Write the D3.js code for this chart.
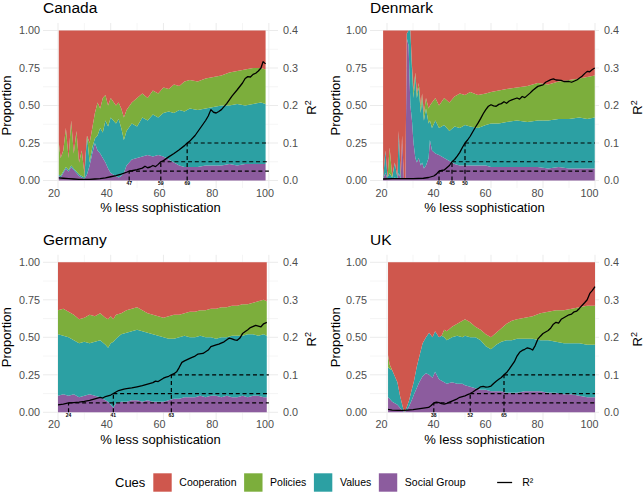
<!DOCTYPE html>
<html>
<head>
<meta charset="utf-8">
<script src="https://cdn.jsdelivr.net/npm/d3@7"></script>
<style>
  body { margin: 0; background: #fff; }
  text { font-family: "Liberation Sans", Arial, Helvetica, sans-serif; }
</style>
</head>
<body>
<div id="chart-area"></div>
<script>
// cues, bottom of the stack first
const cues = ["Social Group", "Values", "Policies", "Cooperation"];
const legendOrder = ["Cooperation", "Policies", "Values", "Social Group"];
const cueColors = {"Cooperation": "#CF574D", "Policies": "#7CAE3C", "Values": "#2CA0A3", "Social Group": "#8C5C9E"};

const xTicks = [20, 40, 60, 80, 100];
const xMinor = [30, 50, 70, 90];
const yTicks = [0, 0.25, 0.5, 0.75, 1];
const yMinor = [0.125, 0.375, 0.625, 0.875];
const r2Ticks = [0, 0.1, 0.2, 0.3, 0.4];
const r2Cuts = [0.025, 0.05, 0.1];

// Canada
const canX        = [20.3,21,22,23,24,25,26,27,28,29,30,31,32,33,34,35,36,37,38,39,40,42,43,44,45,46,48,50,52,54,56,58,60,62,64,66,68,70,73,76,79,82,85,88,91,94,97,98.75];
const canSocial   = [.03,.02,.05,.08,.06,.09,.07,.05,.03,.02,.01,.04,.10,.18,.25,.20,.18,.15,.12,.08,.05,.03,.02,.03,.05,.10,.14,.15,.16,.17,.16,.17,.16,.14,.12,.10,.09,.09,.09,.10,.10,.10,.11,.10,.11,.11,.11,.11];
const canValues   = [.01,.01,.01,.01,.01,.01,.01,.01,.01,.01,.01,.26,.02,.04,.03,.10,.17,.17,.28,.28,.37,.35,.39,.32,.22,.23,.24,.21,.26,.23,.28,.25,.29,.32,.33,.37,.37,.39,.38,.38,.39,.40,.39,.41,.39,.40,.41,.40];
const canPolicies = [.21,.12,.14,.26,.08,.30,.10,.27,.08,.17,.03,.00,.13,.13,.17,.22,.13,.23,.17,.14,.13,.12,.11,.13,.15,.14,.14,.19,.16,.15,.16,.16,.17,.15,.19,.16,.20,.19,.19,.20,.20,.20,.22,.22,.24,.24,.23,.23];
const canCoop     = [.75,.85,.80,.65,.85,.60,.82,.67,.88,.80,.95,.70,.75,.65,.55,.48,.52,.45,.43,.50,.45,.50,.48,.52,.58,.53,.48,.45,.42,.45,.40,.42,.38,.39,.36,.37,.34,.33,.34,.32,.31,.30,.28,.27,.26,.25,.25,.26];
const canR2X = [20.3,22,24,26,28,30,32,34,36,38,40,42,44,46,47,48,50,52,53,54,55,56,57,58,59,60,62,64,66,68,69,70,72,74,76,77,78,79,80,81,82,84,86,88,90,91,92,93,94,95,96,97,97.8,98.75];
const canR2  = [.007,.006,.005,.004,.003,.003,.003,.004,.005,.007,.010,.013,.017,.022,.025,.026,.029,.033,.038,.034,.036,.040,.037,.043,.050,.053,.063,.072,.082,.093,.100,.105,.120,.140,.160,.172,.189,.182,.180,.184,.189,.205,.225,.242,.260,.272,.277,.276,.283,.286,.292,.300,.317,.311];
const canCut = [47, 59, 69];

// Denmark
const denX        = [18.5,19.4,20.2,21,22,23,24,24.5,25.3,25.8,26.5,27.1,27.6,28.3,29,29.6,30.2,30.9,31.5,32.2,33,33.5,34.2,35,36,36.5,37.3,38.6,40,42,44,46,48,50,52,55,58,60,63,66,70,74,78,82,86,90,94,97,99.9];
const denSocial   = [.01,.05,.01,.01,.01,.02,.01,.05,.01,.30,.01,.01,.95,.90,.50,.40,.25,.15,.12,.15,.10,.12,.08,.10,.15,.27,.20,.18,.17,.15,.13,.11,.10,.10,.10,.10,.10,.09,.09,.09,.09,.09,.09,.08,.09,.08,.08,.08,.08];
const denValues   = [.00,.15,.01,.04,.01,.10,.01,.28,.01,.00,.00,.00,.03,.10,.50,.35,.30,.55,.43,.47,.35,.43,.32,.38,.23,.13,.15,.22,.18,.22,.20,.25,.25,.27,.26,.25,.27,.29,.29,.30,.31,.30,.31,.32,.32,.33,.34,.33,.34];
const denPolicies = [.00,.00,.00,.17,.01,.00,.00,.00,.00,.00,.00,.00,.00,.00,.00,.02,.05,.02,.03,.03,.05,.03,.05,.07,.10,.10,.17,.15,.15,.18,.19,.20,.23,.20,.23,.22,.21,.21,.22,.22,.22,.24,.25,.24,.25,.26,.26,.28,.28];
const denCoop     = [.99,.80,.98,.78,.97,.88,.98,.67,.98,.70,.99,.99,.02,.00,.00,.23,.40,.28,.42,.35,.50,.42,.55,.45,.52,.50,.48,.45,.50,.45,.48,.44,.42,.43,.41,.43,.42,.41,.40,.39,.38,.37,.35,.36,.34,.33,.32,.31,.30];
const denR2X = [18.5,22,26,30,34,36,38,39,40,41,42,43,44,45,46,47,48,49,50,51,52,53,54,55,56,57,58,59,60,61,62,63,64,65,66,67,68,70,71,72,73,75,76,78,80,81,83,84,85,87,88,90,91,93,95,96,97,98,99,99.9];
const denR2  = [.004,.005,.005,.005,.006,.008,.012,.017,.025,.027,.028,.034,.040,.050,.056,.065,.075,.088,.100,.108,.118,.130,.142,.153,.165,.178,.189,.198,.202,.199,.198,.203,.205,.210,.206,.212,.215,.220,.217,.224,.221,.233,.240,.251,.255,.262,.269,.271,.268,.267,.264,.264,.262,.268,.278,.285,.291,.290,.296,.300];
const denCut = [40, 45, 50];

// Germany
const gerX        = [20,22,24,26,28,30,32,34,36,38,39,40,41,42,44,46,48,50,52,54,56,58,60,62,64,66,68,70,72,74,76,78,80,82,84,86,88,90,92,94,96,98,99.2];
const gerSocial   = [.11,.12,.11,.12,.10,.11,.12,.11,.10,.08,.07,.05,.03,.06,.07,.07,.08,.08,.07,.08,.07,.07,.07,.08,.09,.09,.10,.10,.10,.11,.10,.11,.11,.10,.11,.10,.10,.11,.10,.11,.11,.10,.10];
const gerValues   = [.41,.39,.39,.36,.36,.36,.34,.36,.38,.37,.36,.41,.44,.43,.45,.46,.46,.47,.47,.45,.45,.44,.43,.41,.40,.41,.41,.40,.40,.40,.40,.39,.38,.40,.39,.41,.41,.40,.42,.41,.40,.42,.41];
const gerPolicies = [.16,.18,.17,.17,.16,.16,.19,.17,.18,.18,.19,.18,.15,.16,.14,.15,.15,.15,.14,.13,.13,.13,.13,.15,.16,.15,.15,.17,.17,.17,.18,.19,.20,.20,.20,.20,.20,.21,.20,.21,.23,.23,.23];
const gerCoop     = [.32,.31,.33,.35,.38,.37,.35,.36,.34,.37,.38,.36,.38,.35,.34,.32,.31,.30,.32,.34,.35,.36,.37,.36,.35,.35,.34,.33,.33,.32,.32,.31,.31,.30,.30,.29,.29,.28,.28,.27,.26,.25,.26];
const gerR2X = [20,22,24,26,28,30,32,34,36,37,38,40,41,42,43,45,46,48,50,52,54,56,57,58,60,61,62,63,64,65,66,67,68,70,72,73,75,77,78,80,81,83,85,86,87,88,89,90,92,93,95,96,97,98,99.2];
const gerR2  = [.020,.022,.025,.026,.027,.029,.032,.036,.040,.038,.042,.046,.050,.054,.058,.062,.063,.065,.068,.071,.075,.079,.083,.082,.091,.094,.096,.100,.103,.108,.120,.133,.137,.144,.150,.155,.157,.166,.175,.180,.182,.188,.198,.196,.193,.192,.198,.210,.220,.226,.232,.230,.228,.236,.240];
const gerCut = [24, 41, 63];

// UK
const ukX        = [20.4,21,22,23,24,25,26,26.6,27.5,28.5,29.5,30.4,31.4,32.4,33.7,35,36.2,37.5,38.5,40,41,42,43,45,47,49,50,52,54,56,58,60,62,64,66,68,70,73,76,79,82,85,88,91,94,97,100];
const ukSocial   = [.10,.09,.07,.06,.05,.03,.01,.00,.01,.04,.08,.12,.16,.20,.24,.26,.25,.23,.27,.22,.21,.20,.19,.20,.19,.19,.18,.17,.16,.15,.15,.14,.14,.14,.13,.13,.13,.14,.14,.14,.13,.13,.12,.12,.11,.10,.10];
const ukValues   = [.20,.20,.21,.18,.15,.08,.03,.00,.02,.04,.07,.09,.14,.17,.22,.24,.28,.27,.27,.28,.30,.30,.29,.30,.32,.31,.33,.33,.34,.33,.29,.28,.31,.33,.35,.35,.36,.35,.35,.34,.35,.34,.34,.34,.35,.35,.35];
const ukPolicies = [.08,.03,.00,.00,.00,.00,.00,.00,.00,.00,.00,.00,.00,.00,.00,.00,.00,.00,.00,.00,.00,.05,.06,.07,.08,.11,.11,.10,.07,.07,.08,.08,.08,.09,.11,.13,.13,.14,.15,.18,.19,.21,.22,.23,.24,.26,.26];
const ukCoop     = [.62,.68,.72,.76,.80,.89,.96,1.0,.97,.92,.85,.79,.70,.63,.54,.50,.47,.50,.46,.50,.49,.45,.46,.43,.41,.39,.38,.40,.43,.45,.48,.50,.47,.44,.41,.39,.38,.37,.36,.34,.33,.32,.32,.31,.30,.29,.29];
const ukR2X = [20.4,22,24,26,28,30,32,34,36,37,38,39,40,41,42,43,44,45,47,48,50,51,52,53,54,55,56,57,58,59,60,61,62,63,64,65,66,67,68,69,70,71,72,73,74,75,76,77,78,79,80,82,83,84,85,86,87,88,89,90,91,92,93,94,95,96,97,98,99,100];
const ukR2  = [.008,.006,.005,.005,.006,.007,.009,.011,.013,.018,.025,.027,.026,.023,.022,.024,.027,.030,.036,.040,.044,.047,.050,.054,.059,.063,.068,.069,.067,.068,.070,.077,.083,.088,.093,.100,.106,.115,.125,.135,.150,.160,.165,.168,.172,.170,.166,.178,.195,.203,.210,.218,.225,.235,.240,.238,.248,.252,.256,.260,.262,.268,.270,.277,.285,.292,.300,.317,.325,.335];
const ukCut = [38, 52, 65];

const panels = [
  {name: "Canada",  col: 0, row: 0, x: canX, s: canSocial, v: canValues, p: canPolicies, c: canCoop, r2x: canR2X, r2: canR2, cuts: canCut},
  {name: "Denmark", col: 1, row: 0, x: denX, s: denSocial, v: denValues, p: denPolicies, c: denCoop, r2x: denR2X, r2: denR2, cuts: denCut},
  {name: "Germany", col: 0, row: 1, x: gerX, s: gerSocial, v: gerValues, p: gerPolicies, c: gerCoop, r2x: gerR2X, r2: gerR2, cuts: gerCut},
  {name: "UK",      col: 1, row: 1, x: ukX,  s: ukSocial,  v: ukValues,  p: ukPolicies,  c: ukCoop,  r2x: ukR2X,  r2: ukR2,  cuts: ukCut}
];

// layout
const cols = [
  {left: 43,  right: 278, domain: [14.31, 103.46], labelDx: -4.5, propX: 11,    r2X: 316},
  {left: 370, right: 599, domain: [13.46, 101.54], labelDx: -6,   propX: 339.5, r2X: 642}
];
const rows = [{top: 23}, {top: 254.8}];
const panelH = 165;

var svg = d3.select("#chart-area").append("svg")
    .attr("width", 644)
    .attr("height", 493);

panels.forEach((d) => {
    var col = cols[d.col], top = rows[d.row].top, bottom = top + panelH;
    var x = d3.scaleLinear().domain(col.domain).range([col.left, col.right]);
    var y = d3.scaleLinear().domain([-0.05, 1.05]).range([bottom, top]);
    var r2y = d3.scaleLinear().domain([-0.02, 0.42]).range([bottom, top]);
    var g = svg.append("g");

    // grid
    g.selectAll(".ymin").data(yMinor).enter().append("line")
        .attr("x1", col.left).attr("x2", col.right)
        .attr("y1", y).attr("y2", y)
        .attr("stroke", "#EBEBEB").attr("stroke-width", 0.5);
    g.selectAll(".xmin").data(xMinor).enter().append("line")
        .attr("x1", x).attr("x2", x)
        .attr("y1", top).attr("y2", bottom)
        .attr("stroke", "#EBEBEB").attr("stroke-width", 0.5);
    g.selectAll(".ymaj").data(yTicks).enter().append("line")
        .attr("x1", col.left).attr("x2", col.right)
        .attr("y1", y).attr("y2", y)
        .attr("stroke", "#EBEBEB").attr("stroke-width", 1);
    g.selectAll(".xmaj").data(xTicks).enter().append("line")
        .attr("x1", x).attr("x2", x)
        .attr("y1", top).attr("y2", bottom)
        .attr("stroke", "#EBEBEB").attr("stroke-width", 1);

    // stacked areas
    var rowsData = d.x.map((xv, i) => ({
        x: xv, "Social Group": d.s[i], "Values": d.v[i], "Policies": d.p[i], "Cooperation": d.c[i]
    }));
    var stack = d3.stack().keys(cues)(rowsData);
    var area = d3.area()
        .x((e) => x(e.data.x))
        .y0((e) => y(e[0]))
        .y1((e) => y(e[1]));
    g.selectAll(".layer").data(stack).enter().append("path")
        .attr("d", area)
        .attr("fill", (s) => cueColors[s.key]);

    // dashed cut lines
    d.cuts.forEach((cx, i) => {
        g.append("line")
            .attr("x1", x(cx)).attr("x2", x(cx))
            .attr("y1", y(0)).attr("y2", r2y(r2Cuts[i]))
            .attr("stroke", "black").attr("stroke-width", 1.2)
            .attr("stroke-dasharray", "4,2.8");
        g.append("line")
            .attr("x1", x(cx)).attr("x2", x(100))
            .attr("y1", r2y(r2Cuts[i])).attr("y2", r2y(r2Cuts[i]))
            .attr("stroke", "black").attr("stroke-width", 1.2)
            .attr("stroke-dasharray", "4,2.8");
        g.append("text")
            .attr("x", x(cx)).attr("y", y(0) + 4.6)
            .attr("text-anchor", "middle")
            .attr("font-size", "5px")
            .attr("font-weight", "bold")
            .attr("fill", "black")
            .text(cx);
    });

    // R2 line
    var line = d3.line()
        .x((e) => x(e[0]))
        .y((e) => r2y(e[1]));
    g.append("path")
        .datum(d.r2x.map((xv, i) => [xv, d.r2[i]]))
        .attr("d", line)
        .attr("fill", "none")
        .attr("stroke", "black")
        .attr("stroke-width", 1.3)
        .attr("stroke-linejoin", "round");

    // axes
    var yAxis = g.append("g").attr("transform", `translate(${col.left},0)`)
        .call(d3.axisLeft(y).tickValues(yTicks).tickFormat(d3.format(".2f")).tickSize(0).tickPadding(3));
    var rAxis = g.append("g").attr("transform", `translate(${col.right},0)`)
        .call(d3.axisRight(r2y).tickValues(r2Ticks).tickFormat(d3.format(".1f")).tickSize(0).tickPadding(5));
    var xAxis = g.append("g").attr("transform", `translate(0,${bottom})`)
        .call(d3.axisBottom(x).tickValues(xTicks).tickSize(0).tickPadding(1));
    xAxis.selectAll("text").attr("dx", col.labelDx);
    [yAxis, rAxis, xAxis].forEach((a) => {
        a.select(".domain").remove();
        a.selectAll("text")
            .attr("font-family", "Liberation Sans, Arial, sans-serif")
            .attr("font-size", "10.8px")
            .attr("fill", "#4D4D4D");
    });

    // titles
    g.append("text")
        .attr("x", col.left).attr("y", top - 9.6)
        .attr("font-size", "15.5px").attr("fill", "black")
        .text(d.name);
    g.append("text")
        .attr("x", (col.left + col.right) / 2).attr("y", bottom + 24)
        .attr("text-anchor", "middle")
        .attr("font-size", "13px").attr("fill", "black")
        .text("% less sophistication");
    g.append("text")
        .attr("transform", `translate(${col.propX},${(top + bottom) / 2}) rotate(-90)`)
        .attr("text-anchor", "middle")
        .attr("font-size", "13px").attr("fill", "black")
        .text("Proportion");
    var rt = g.append("text")
        .attr("transform", `translate(${col.r2X},${(top + bottom) / 2 + 2}) rotate(-90)`)
        .attr("text-anchor", "middle")
        .attr("font-size", "13px").attr("fill", "black");
    rt.append("tspan").text("R");
    rt.append("tspan").attr("font-size", "9px").attr("dy", -5).text("2");
});

// legend
var leg = svg.append("g");
var ly = 482.5;
leg.append("text")
    .attr("x", 115).attr("y", ly + 4.7)
    .attr("font-size", "13px").attr("fill", "black")
    .text("Cues");
var lx = 153.3;
legendOrder.forEach((k) => {
    leg.append("rect")
        .attr("x", lx).attr("y", ly - 9.2)
        .attr("width", 18.4).attr("height", 18.4)
        .attr("fill", cueColors[k]);
    var t = leg.append("text")
        .attr("x", lx + 26).attr("y", ly + 3.8)
        .attr("font-size", "10.5px").attr("fill", "black")
        .text(k);
    lx = lx + 26 + t.node().getComputedTextLength() + 7.6;
});
lx = lx + 22.5;
leg.append("line")
    .attr("x1", lx + 1.5).attr("x2", lx + 16.5)
    .attr("y1", ly).attr("y2", ly)
    .attr("stroke", "black").attr("stroke-width", 1.3);
leg.append("text")
    .attr("x", lx + 26.5).attr("y", ly + 3.8)
    .attr("font-size", "10.5px").attr("fill", "black")
    .text("R²");
</script>
</body>
</html>
